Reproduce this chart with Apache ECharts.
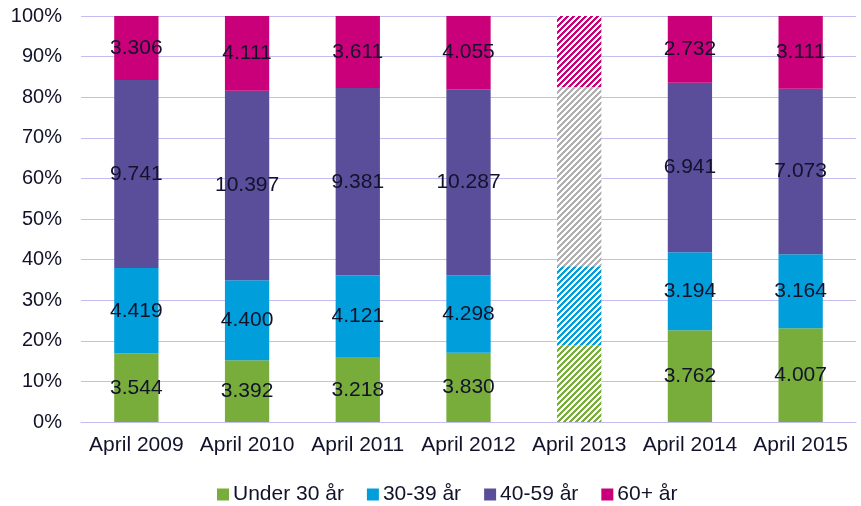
<!DOCTYPE html>
<html><head><meta charset="utf-8">
<script src="https://cdn.jsdelivr.net/npm/echarts@6/dist/echarts.min.js"></script>
<style>html,body{margin:0;padding:0;background:#fff}#c{width:861px;height:506px}</style>
</head><body><div id="c"></div>
<script>
const categories = ['April 2009','April 2010','April 2011','April 2012','April 2013','April 2014','April 2015'];
const seriesNames = ['Under 30 år','30-39 år','40-59 år','60+ år'];
const under30 = [3.544, 3.392, 3.218, 3.830, 3.900, 3.762, 4.007];
const age3039 = [4.419, 4.400, 4.121, 4.298, 4.000, 3.194, 3.164];
const age4059 = [9.741, 10.397, 9.381, 10.287, 9.100, 6.941, 7.073];
const age60 = [3.306, 4.111, 3.611, 4.055, 3.600, 2.732, 3.111];
const hatchedIndex = 4;
const colors = ['#78ad3c','#009fdc','#5a4e9b','#c9007a'];
const hatchColors = ['#78ad3c','#009fdc','#b0b0b0','#c9007a'];
const FONT = 'Liberation Sans, Arial, sans-serif';
const TXT = '#12122a';

function makePattern(col){
  const s = 6;
  const cv = document.createElement('canvas');
  cv.width = s; cv.height = s;
  const ctx = cv.getContext('2d');
  ctx.fillStyle = '#fff'; ctx.fillRect(0,0,s,s);
  ctx.fillStyle = col;
  for(let x=0;x<s;x++) for(let y=0;y<s;y++){ if((x+y)%s < 3) ctx.fillRect(x,y,1,1); }
  return {image: cv, repeat: 'repeat'};
}

const all = [under30, age3039, age4059, age60];
const totals = categories.map((_,i)=>all.reduce((a,arr)=>a+arr[i],0));
const fmt = v => v.toFixed(3);

const series = all.map((arr, si)=>({
  name: seriesNames[si],
  type: 'bar',
  stack: 'total',
  barWidth: '40%',
  itemStyle: {color: colors[si]},
  label: {show: true, position: 'inside', color: TXT, fontSize: 21, fontFamily: FONT,
    formatter: p => fmt(arr[p.dataIndex])},
  data: arr.map((v,i)=>{
    const pct = v / totals[i] * 100;
    if(i === hatchedIndex){
      return {value: pct, itemStyle: {color: makePattern(hatchColors[si])}, label: {show: false}};
    }
    return {value: pct};
  })
}));

const chart = echarts.init(document.getElementById('c'), null, {renderer:'canvas'});
chart.setOption({
  animation: false,
  textStyle: {fontFamily: FONT},
  grid: {left: 81, right: 5, top: 16, bottom: 84, containLabel: false},
  legend: {
    top: 484, left: 217, padding: 0, itemWidth: 12, itemHeight: 12, itemGap: 23,
    icon: 'rect',
    textStyle: {fontSize: 21, color: TXT, fontFamily: FONT, padding: [0,0,0,-1]},
    data: seriesNames.map((n,i)=>({name:n, itemStyle:{color:colors[i]}}))
  },
  xAxis: {
    type: 'category', data: categories,
    axisLine: {lineStyle: {color: '#c4bdf2', width: 1}},
    axisTick: {show: false},
    axisLabel: {fontSize: 21, color: TXT, margin: 13, interval: 0}
  },
  yAxis: {
    type: 'value', min: 0, max: 100, interval: 10,
    axisLabel: {formatter: '{value}%', fontSize: 20, color: TXT, margin: 19},
    splitLine: {lineStyle: {color: '#c4bdf2', width: 1}},
    axisLine: {show: false}, axisTick: {show: false}
  },
  series: series
});
</script></body></html>
